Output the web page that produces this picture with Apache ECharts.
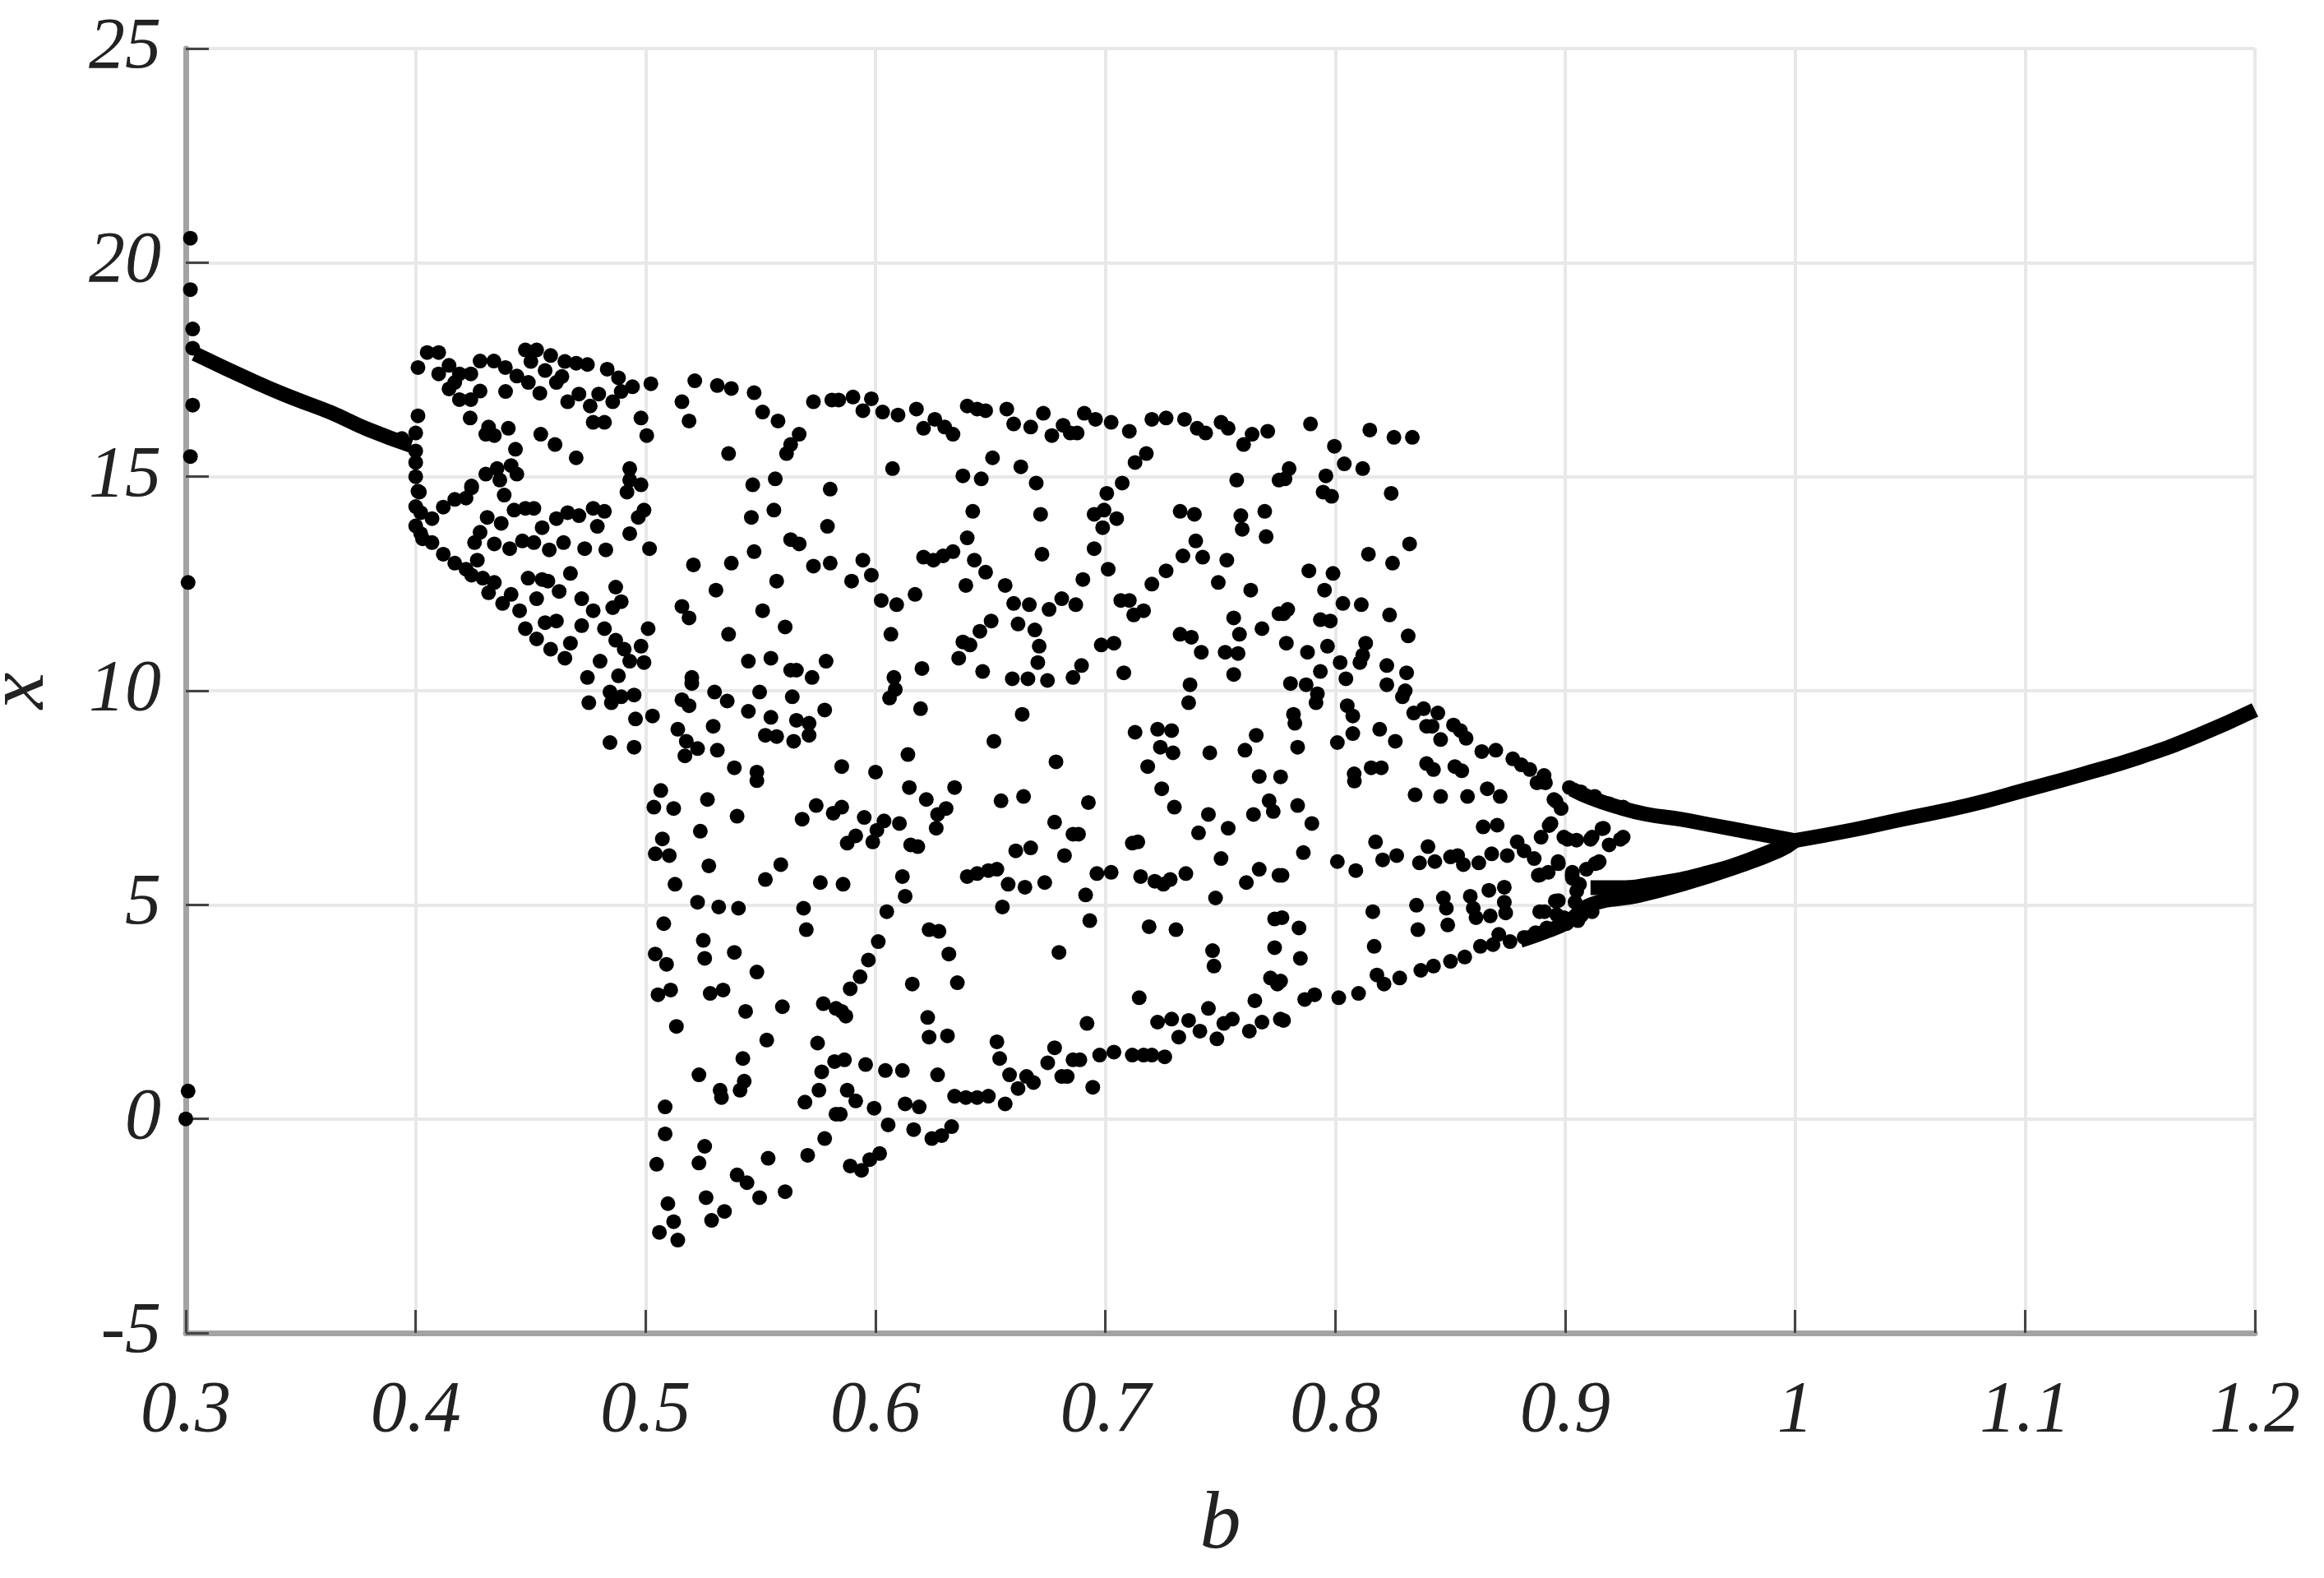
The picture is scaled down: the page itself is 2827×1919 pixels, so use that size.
<!DOCTYPE html>
<html>
<head>
<meta charset="utf-8">
<title>Bifurcation diagram</title>
<script src="https://cdn.jsdelivr.net/npm/echarts@6/dist/echarts.min.js"></script>
<style>
  html, body { margin: 0; padding: 0; background: #fff; }
  #chart { width: 2827px; height: 1919px; }
</style>
</head>
<body>
<div id="chart"></div>
<script>
// axis ticks
const bTicks = [0.3, 0.4, 0.5, 0.6, 0.7, 0.8, 0.9, 1.0, 1.1, 1.2];
const xTicks = [-5, 0, 5, 10, 15, 20, 25];

// period-1 branch before the chaotic window, [b, x]
const leftBranch = [[0.304, 17.87], [0.331, 17.19], [0.347, 16.83], [0.363, 16.5], [0.379, 16.11], [0.398, 15.73]];

// isolated dots on b = 0.3
const dotsAt03 = [[0.302, 20.57], [0.302, 19.37], [0.303, 18.45], [0.303, 18.0], [0.303, 16.67], [0.302, 15.47], [0.301, 12.53], [0.301, 0.65], [0.3, 0.0]];

// dots on the vertical strip at b = 0.4
const dotsAt04 = [[0.401, 16.42], [0.4, 16.02], [0.4, 15.6], [0.4, 15.33], [0.4, 15.0], [0.401, 14.66], [0.4, 14.3], [0.394, 15.89]];

// chaotic region, b 0.40 - 0.58, upper part
const chaosA = [
  [0.401, 17.55], [0.405, 17.9], [0.41, 17.9], [0.4145, 17.6], [0.419, 17.4], [0.424, 17.4], [0.428, 17.7], [0.434, 17.7],
  [0.439, 17.55], [0.444, 17.35], [0.449, 17.2], [0.454, 16.95], [0.41, 17.4], [0.4145, 17.05], [0.419, 16.8], [0.424, 16.8],
  [0.428, 17.0], [0.417, 17.2], [0.4477, 17.96], [0.4501, 17.69], [0.4526, 17.96], [0.4563, 17.48], [0.4587, 17.83],
  [0.4612, 17.2], [0.4636, 17.34], [0.4649, 17.69], [0.4698, 17.65], [0.4747, 17.62], [0.4661, 16.75], [0.471, 16.93],
  [0.4759, 16.65], [0.4796, 16.93], [0.4772, 16.27], [0.4821, 16.27], [0.4833, 17.51], [0.4882, 17.31], [0.4857, 16.75],
  [0.4894, 16.99], [0.4943, 17.1], [0.498, 16.37], [0.5023, 17.17], [0.5005, 15.96], [0.4391, 16.99], [0.4237, 16.37],
  [0.4317, 16.16], [0.4342, 15.96], [0.4403, 16.13], [0.4305, 15.99], [0.4434, 15.64], [0.4544, 15.99], [0.4606, 15.75],
  [0.4698, 15.44], [0.4305, 15.06], [0.4354, 15.19], [0.4415, 15.26], [0.444, 15.06], [0.4366, 14.92], [0.4243, 14.78],
  [0.4385, 14.57], [0.4016, 14.64], [0.4022, 14.16], [0.4071, 14.02], [0.412, 14.29], [0.417, 14.47], [0.4219, 14.5],
  [0.4243, 14.74], [0.4428, 14.22], [0.4477, 14.26], [0.4514, 14.26], [0.4612, 14.02], [0.4661, 14.16], [0.471, 14.09],
  [0.4772, 14.26], [0.4821, 14.19], [0.479, 13.84], [0.455, 13.81], [0.4372, 13.91], [0.4311, 14.05], [0.428, 13.7],
  [0.4022, 13.67], [0.4071, 13.46], [0.412, 13.19], [0.417, 12.98], [0.4219, 12.84], [0.4243, 12.7], [0.4256, 13.46],
  [0.4268, 13.05], [0.4342, 13.43], [0.4409, 13.32], [0.4464, 13.5], [0.4514, 13.46], [0.4581, 13.29], [0.4643, 13.46],
  [0.4735, 13.32], [0.4827, 13.29], [0.4292, 12.63], [0.4342, 12.53], [0.4317, 12.29], [0.4378, 12.04], [0.4415, 12.25],
  [0.4489, 12.63], [0.455, 12.6], [0.4575, 12.56], [0.4624, 12.32], [0.4673, 12.74], [0.4722, 12.15], [0.4526, 12.15],
  [0.4452, 11.87], [0.4477, 11.45], [0.4526, 11.21], [0.4563, 11.59], [0.4612, 11.63], [0.4587, 10.97], [0.4649, 10.76],
  [0.4673, 11.11], [0.4722, 11.52], [0.4772, 11.87], [0.4821, 11.45], [0.487, 11.18], [0.4907, 10.97], [0.487, 12.42],
  [0.4894, 12.08], [0.4857, 11.94], [0.4931, 10.69], [0.498, 11.04], [0.4993, 10.66], [0.5011, 11.45], [0.4802, 10.69],
  [0.4747, 10.31], [0.4882, 10.35], [0.4845, 9.97], [0.4894, 9.86], [0.495, 9.9], [0.4851, 9.72], [0.4753, 9.72],
  [0.4956, 9.34], [0.503, 9.41], [0.4845, 8.79], [0.495, 8.68], [0.4931, 15.19], [0.4931, 14.92], [0.498, 14.81],
  [0.4919, 14.64], [0.4993, 14.22], [0.4968, 14.05], [0.4931, 13.67], [0.5017, 13.32], [0.5214, 17.24], [0.5312, 17.13],
  [0.5373, 17.06], [0.5472, 16.96], [0.5509, 16.51], [0.5576, 16.3], [0.5158, 16.75], [0.5189, 16.3], [0.5361, 15.54],
  [0.5631, 15.75], [0.5668, 15.99], [0.5613, 15.54], [0.573, 16.75], [0.581, 16.79], [0.5466, 14.81], [0.5564, 14.95],
  [0.5803, 14.71], [0.546, 14.05], [0.5558, 14.22], [0.5791, 13.84], [0.5631, 13.53], [0.5668, 13.43], [0.5472, 13.25],
  [0.5373, 12.98], [0.5208, 12.94], [0.573, 12.91], [0.5803, 12.98], [0.557, 12.56], [0.5306, 12.35], [0.5158, 11.97],
  [0.5189, 11.7], [0.5509, 11.87], [0.5607, 11.49], [0.5361, 11.32], [0.5447, 10.69], [0.5545, 10.76], [0.5631, 10.48],
  [0.5656, 10.48], [0.5724, 10.31], [0.5785, 10.69], [0.5201, 10.31], [0.5201, 10.17], [0.5158, 9.79], [0.5189, 9.65],
  [0.53, 9.97], [0.5355, 9.76], [0.5496, 9.97], [0.5638, 9.86], [0.5447, 9.52], [0.5545, 9.38], [0.5656, 9.31],
  [0.5711, 9.24], [0.5779, 9.55], [0.5711, 8.96], [0.5294, 9.17], [0.514, 9.1], [0.5177, 8.82], [0.5226, 8.65],
  [0.5312, 8.61], [0.5171, 8.48], [0.5386, 8.2], [0.5484, 8.1], [0.5521, 8.96], [0.557, 8.93], [0.5644, 8.82],
  [0.4, 13.85], [0.403, 13.55]
];

// chaotic region, b 0.50 - 0.58, lower part
const chaosB = [
  [0.5066, 7.67], [0.5036, 7.28], [0.5122, 7.25], [0.5269, 7.46], [0.5398, 7.07], [0.5238, 6.72], [0.5073, 6.54],
  [0.5042, 6.19], [0.5103, 6.15], [0.5275, 5.91], [0.5128, 5.48], [0.5226, 5.06], [0.5318, 4.95], [0.5404, 4.92],
  [0.5079, 4.56], [0.5251, 4.17], [0.5386, 3.89], [0.5257, 3.75], [0.5042, 3.85], [0.5091, 3.61], [0.5054, 2.9],
  [0.5109, 3.01], [0.5281, 2.93], [0.5337, 3.01], [0.5435, 2.51], [0.5484, 3.43], [0.5588, 5.94], [0.5521, 5.59],
  [0.5134, 2.16], [0.5527, 1.84], [0.5595, 2.62], [0.5232, 1.03], [0.5324, 0.67], [0.533, 0.5], [0.5423, 1.41],
  [0.5429, 0.88], [0.5411, 0.67], [0.5085, 0.28], [0.5085, -0.35], [0.5257, -0.64], [0.5048, -1.06], [0.5232, -1.03],
  [0.5533, -0.92], [0.5398, -1.31], [0.5441, -1.49], [0.5263, -1.84], [0.5496, -1.84], [0.5607, -1.7], [0.5097, -1.98],
  [0.5122, -2.4], [0.506, -2.65], [0.514, -2.83], [0.5287, -2.37], [0.5343, -2.16], [0.5705, -0.85], [0.5779, -0.46],
  [0.5693, 0.39], [0.5754, 0.67], [0.5766, 1.1], [0.5822, 1.34], [0.5748, 1.77], [0.5773, 2.69], [0.5828, 2.58],
  [0.5687, 4.92], [0.5699, 4.42], [0.576, 5.52], [0.5681, 7.0], [0.5742, 7.32], [0.5816, 7.14], [0.5828, 0.11], [0.5484, 7.9]
];

// chaotic region, b 0.58 - 0.78, upper part
const chaosC = [
  [0.584, 16.79], [0.5902, 16.86], [0.5945, 16.54], [0.5982, 16.82], [0.6031, 16.51], [0.6098, 16.44], [0.6178, 16.58],
  [0.6209, 16.13], [0.6258, 16.34], [0.6301, 16.16], [0.6337, 15.99], [0.6399, 16.65], [0.6442, 16.58], [0.6479, 16.54],
  [0.6571, 16.58], [0.6601, 16.23], [0.6675, 16.16], [0.673, 16.48], [0.6767, 15.96], [0.6816, 16.2], [0.6847, 16.02],
  [0.6877, 16.02], [0.6908, 16.48], [0.6957, 16.34], [0.7025, 16.27], [0.7104, 16.06], [0.7202, 16.34], [0.7264, 16.37],
  [0.7344, 16.34], [0.7399, 16.13], [0.7436, 16.02], [0.7503, 16.27], [0.7534, 16.13], [0.7601, 15.75], [0.7638, 15.99],
  [0.7706, 16.06], [0.6074, 15.19], [0.638, 15.02], [0.646, 14.95], [0.6509, 15.44], [0.6632, 15.23], [0.6699, 14.85],
  [0.7129, 15.33], [0.7178, 15.54], [0.7073, 14.85], [0.7006, 14.61], [0.7571, 14.92], [0.7755, 14.92], [0.6423, 14.19],
  [0.6718, 14.12], [0.6951, 14.12], [0.6994, 14.22], [0.7049, 14.02], [0.6988, 13.81], [0.7325, 14.19], [0.7387, 14.12],
  [0.7589, 14.09], [0.7693, 14.19], [0.7595, 13.77], [0.7699, 13.6], [0.6399, 13.57], [0.6209, 13.12], [0.6252, 13.05],
  [0.6294, 13.15], [0.6337, 13.25], [0.5945, 13.05], [0.5982, 12.7], [0.5896, 12.56], [0.643, 13.05], [0.6479, 12.77],
  [0.6724, 13.19], [0.6951, 13.32], [0.7393, 13.5], [0.7337, 13.15], [0.7423, 13.12], [0.7528, 13.05], [0.7012, 12.84],
  [0.6902, 12.6], [0.7264, 12.8], [0.7202, 12.49], [0.7491, 12.53], [0.7632, 12.35], [0.6393, 12.46], [0.6564, 12.46],
  [0.6025, 12.11], [0.6092, 12.01], [0.6172, 12.25], [0.6601, 12.04], [0.6669, 12.01], [0.6755, 11.9], [0.681, 12.15],
  [0.6871, 12.01], [0.7067, 12.11], [0.7104, 12.11], [0.7123, 11.77], [0.7166, 11.87], [0.7558, 11.7], [0.7583, 11.32],
  [0.7681, 11.45], [0.7755, 11.8], [0.6503, 11.63], [0.6454, 11.39], [0.638, 11.14], [0.6411, 11.07], [0.6362, 10.76],
  [0.662, 11.56], [0.6693, 11.42], [0.6712, 11.04], [0.6706, 10.66], [0.6067, 11.32], [0.6202, 10.52], [0.608, 10.31],
  [0.6086, 10.03], [0.6061, 9.83], [0.6466, 10.45], [0.6595, 10.28], [0.6663, 10.28], [0.6748, 10.24], [0.6859, 10.31],
  [0.6896, 10.59], [0.6982, 11.07], [0.7037, 11.11], [0.708, 10.42], [0.7325, 11.32], [0.7374, 11.25], [0.7417, 10.9],
  [0.7521, 10.9], [0.7577, 10.87], [0.7558, 10.38], [0.7368, 10.14], [0.7362, 9.72], [0.6196, 9.58], [0.6638, 9.45],
  [0.6515, 8.82], [0.6141, 8.51], [0.6, 8.1], [0.5853, 8.23], [0.6785, 8.34], [0.7129, 9.03], [0.7227, 9.1],
  [0.7288, 9.07], [0.7239, 8.68], [0.7294, 8.55], [0.7184, 8.23], [0.7454, 8.55], [0.7607, 8.61], [0.7656, 8.96], [0.7669, 8.0]
];

// chaotic region, b 0.58 - 0.78, lower part
const chaosD = [
  [0.6147, 7.74], [0.6344, 7.74], [0.6221, 7.46], [0.6307, 7.25], [0.627, 7.11], [0.6264, 6.79], [0.5853, 7.28],
  [0.5951, 7.04], [0.6037, 6.96], [0.6006, 6.74], [0.5914, 6.61], [0.5877, 6.44], [0.5988, 6.47], [0.6104, 6.9],
  [0.6153, 6.4], [0.6184, 6.36], [0.6546, 7.43], [0.6644, 7.53], [0.6926, 7.39], [0.6779, 6.93], [0.6859, 6.65],
  [0.6883, 6.65], [0.661, 6.26], [0.6675, 6.33], [0.6822, 6.15], [0.7245, 7.71], [0.73, 7.28], [0.7448, 7.11],
  [0.7405, 6.68], [0.7534, 6.79], [0.7644, 7.11], [0.7712, 7.43], [0.773, 7.18], [0.7117, 6.44], [0.7141, 6.47],
  [0.7503, 6.08], [0.7669, 5.83], [0.7613, 5.52], [0.7755, 5.69], [0.7479, 5.16], [0.5859, 5.48], [0.6117, 5.66],
  [0.6129, 5.2], [0.6049, 4.84], [0.6399, 5.66], [0.6442, 5.73], [0.6491, 5.8], [0.6528, 5.83], [0.6577, 5.48],
  [0.665, 5.41], [0.6736, 5.52], [0.6552, 4.95], [0.6914, 5.23], [0.6932, 4.63], [0.6963, 5.73], [0.7025, 5.76],
  [0.7153, 5.66], [0.7215, 5.55], [0.7252, 5.48], [0.7282, 5.59], [0.735, 5.73], [0.719, 4.49], [0.7307, 4.42],
  [0.7736, 4.67], [0.7466, 3.93], [0.7472, 3.57], [0.7736, 4.0], [0.7718, 3.29], [0.7748, 3.15], [0.6233, 4.42],
  [0.6276, 4.38], [0.6012, 4.14], [0.5969, 3.71], [0.5933, 3.32], [0.589, 3.04], [0.6319, 3.85], [0.616, 3.15],
  [0.6356, 3.18], [0.6798, 3.89], [0.7147, 2.83], [0.5853, 2.51], [0.5871, 2.4], [0.6227, 2.37], [0.6233, 1.91],
  [0.6313, 1.94], [0.6528, 1.8], [0.654, 1.41], [0.692, 2.23], [0.6779, 1.66], [0.6749, 1.31], [0.6859, 1.38],
  [0.6889, 1.38], [0.6975, 1.49], [0.7037, 1.56], [0.7117, 1.49], [0.7166, 1.49], [0.7202, 1.49], [0.7258, 1.45],
  [0.7227, 2.26], [0.7288, 2.33], [0.7362, 2.3], [0.7411, 2.05], [0.7319, 1.91], [0.7448, 2.58], [0.7485, 1.87],
  [0.7515, 2.23], [0.7552, 2.33], [0.7626, 2.05], [0.7681, 2.26], [0.765, 2.76], [0.7761, 2.33], [0.5865, 1.38],
  [0.5957, 1.27], [0.6043, 1.13], [0.6117, 1.13], [0.627, 1.03], [0.5877, 0.67], [0.5914, 0.42], [0.5994, 0.25],
  [0.6129, 0.35], [0.619, 0.28], [0.6344, 0.53], [0.6393, 0.5], [0.6442, 0.5], [0.6491, 0.53], [0.6564, 0.35],
  [0.6583, 1.03], [0.662, 0.71], [0.6657, 0.99], [0.6687, 0.85], [0.681, 0.99], [0.6834, 0.99], [0.6945, 0.74],
  [0.5847, 0.11], [0.6055, -0.14], [0.6166, -0.25], [0.6245, -0.46], [0.6288, -0.39], [0.6331, -0.18], [0.6018, -0.81],
  [0.5975, -0.95], [0.5939, -1.2], [0.589, -1.1]
];

// chaotic region, b 0.78 - 0.93
const chaosE = [
  [0.7892, 16.23], [0.815, 16.09], [0.8255, 15.92], [0.8335, 15.92], [0.7996, 15.71], [0.8039, 15.3], [0.8119, 15.19],
  [0.7799, 15.19], [0.7781, 14.95], [0.7959, 15.02], [0.7947, 14.64], [0.7984, 14.54], [0.8243, 14.61], [0.8323, 13.43],
  [0.8144, 13.19], [0.8249, 12.98], [0.7885, 12.8], [0.799, 12.74], [0.7953, 12.35], [0.8033, 12.04], [0.8113, 12.01],
  [0.7793, 11.9], [0.7775, 11.8], [0.7935, 11.66], [0.7978, 11.63], [0.8236, 11.77], [0.8317, 11.28], [0.7787, 11.11],
  [0.7879, 10.9], [0.7966, 11.04], [0.8132, 11.11], [0.8119, 10.83], [0.8107, 10.66], [0.8021, 10.66], [0.7935, 10.45],
  [0.8046, 10.28], [0.8224, 10.59], [0.831, 10.42], [0.8224, 10.14], [0.8304, 10.0], [0.8292, 9.86], [0.7805, 10.17],
  [0.7873, 10.14], [0.7922, 9.93], [0.7916, 9.72], [0.7818, 9.45], [0.7824, 9.24], [0.7836, 8.68], [0.8052, 9.65],
  [0.8076, 9.41], [0.8076, 9.0], [0.8009, 8.79], [0.8193, 9.1], [0.8261, 8.82], [0.8341, 9.48], [0.8384, 9.58],
  [0.8446, 9.48], [0.8397, 9.17], [0.8421, 9.17], [0.8458, 8.86], [0.8514, 9.2], [0.8544, 9.07], [0.8569, 8.89],
  [0.8637, 8.58], [0.8698, 8.61], [0.8772, 8.41], [0.8809, 8.27], [0.8846, 8.16], [0.8908, 8.02], [0.8397, 8.3],
  [0.8427, 8.16], [0.852, 8.23], [0.855, 8.13], [0.8156, 8.2], [0.82, 8.2], [0.8082, 8.06], [0.7762, 7.99],
  [0.8083, 7.89], [0.8347, 7.57], [0.8458, 7.53], [0.8575, 7.53], [0.8661, 7.71], [0.8717, 7.53], [0.8877, 7.85],
  [0.8914, 7.85], [0.7836, 7.32], [0.7898, 6.9], [0.7861, 6.22], [0.7768, 5.69], [0.8009, 6.01], [0.8089, 5.8],
  [0.8175, 6.47], [0.8206, 6.05], [0.8267, 6.15], [0.8366, 5.98], [0.8433, 6.01], [0.8403, 6.36], [0.8501, 6.12],
  [0.8532, 6.15], [0.8557, 5.94], [0.8624, 5.98], [0.868, 6.19], [0.8643, 6.82], [0.8704, 6.86], [0.8748, 6.15],
  [0.8791, 6.47], [0.8821, 6.26], [0.8865, 6.08], [0.8951, 7.46], [0.8982, 7.25], [0.8938, 6.9], [0.8895, 6.58],
  [0.8994, 6.58], [0.9049, 6.51], [0.9117, 6.58], [0.9166, 6.79], [0.9191, 6.4], [0.9252, 6.58], [0.9018, 7.74],
  [0.9068, 7.64], [0.9129, 7.53], [0.9191, 7.36], [0.9252, 7.28], [0.8969, 6.01], [0.8883, 5.69], [0.8926, 5.76],
  [0.9031, 5.76], [0.9092, 5.83], [0.9148, 6.01], [0.8163, 4.84], [0.8353, 4.99], [0.8359, 4.42], [0.847, 5.16],
  [0.8483, 4.92], [0.8489, 4.53], [0.8587, 5.2], [0.86, 4.92], [0.8612, 4.7], [0.8668, 5.34], [0.8674, 4.74],
  [0.8735, 5.41], [0.8735, 5.06], [0.8741, 4.81], [0.7842, 4.46], [0.8169, 4.03], [0.7848, 3.75], [0.7768, 4.7],
  [0.7762, 3.22], [0.8181, 3.36], [0.8212, 3.15], [0.828, 3.29], [0.7867, 2.79], [0.791, 2.9], [0.8015, 2.83],
  [0.8101, 2.93], [0.7775, 2.3], [0.8372, 3.47], [0.8427, 3.57], [0.8501, 3.68], [0.8563, 3.78], [0.8631, 4.03],
  [0.8686, 4.07], [0.8711, 4.31], [0.876, 4.14], [0.8821, 4.24], [0.8871, 4.35], [0.892, 4.46], [0.8889, 4.84],
  [0.8957, 5.09], [0.8963, 4.77], [0.8994, 4.7], [0.9006, 4.56], [0.9055, 4.63], [0.9043, 5.06], [0.9031, 5.62],
  [0.9062, 5.48], [0.9117, 4.84], [0.9142, 5.98], [0.889, 5.7], [0.897, 5.96], [0.903, 5.7], [0.913, 5.96],
  [0.905, 5.32], [0.897, 5.1], [0.891, 4.84], [0.907, 4.75], [0.893, 6.85], [0.901, 6.53], [0.911, 6.53],
  [0.916, 6.78], [0.924, 6.53], [0.896, 7.42], [0.889, 7.87]
];

// period-2 window and period-1 branch after it
const period2Upper = [[0.903, 7.7], [0.911, 7.5], [0.922, 7.3], [0.935, 7.12], [0.95, 7.0], [0.965, 6.85], [0.98, 6.7], [1.0, 6.5]];
const period2Lower = [[0.8805, 4.17], [0.8908, 4.36], [0.901, 4.6], [0.911, 5.0], [0.932, 5.22], [0.952, 5.5], [0.973, 5.86], [0.993, 6.27], [1.0, 6.5]];
const period2LowerTop = [[0.911, 5.4], [0.922, 5.4], [0.94, 5.5], [0.96, 5.72], [0.98, 6.05], [1.0, 6.5]];
const rightBranch = [[1.0, 6.5], [1.025, 6.75], [1.045, 6.98], [1.075, 7.32], [1.1, 7.68], [1.125, 8.05], [1.15, 8.45], [1.175, 8.95], [1.2, 9.55]];

const chart = echarts.init(document.getElementById('chart'));

const serif = '"Liberation Serif", "Times New Roman", Times, serif';

function branch(data) {
  return {
    type: 'line',
    data: data,
    smooth: true,
    symbol: 'none',
    lineStyle: { color: '#000', width: 18, opacity: 1 },
    silent: true,
    z: 3
  };
}

const dots = [].concat(dotsAt03, dotsAt04, chaosA, chaosB, chaosC, chaosD, chaosE);

chart.setOption({
  animation: false,
  backgroundColor: '#fff',
  grid: {
    left: 226,
    right: 84,
    top: 59,
    bottom: 298,
    outerBoundsMode: 'none',
    containLabel: false
  },
  xAxis: {
    type: 'value',
    min: bTicks[0],
    max: bTicks[bTicks.length - 1],
    interval: 0.1,
    name: 'b',
    nameLocation: 'middle',
    nameGap: 185,
    nameTextStyle: { fontSize: 100, fontFamily: serif, fontStyle: 'italic', color: '#222' },
    axisLine: { show: true, onZero: false, lineStyle: { color: '#a3a3a3', width: 7 } },
    axisTick: { show: true, inside: true, length: 28, lineStyle: { color: '#444', width: 3 } },
    axisLabel: {
      margin: 52,
      fontSize: 88,
      fontFamily: serif,
      fontStyle: 'italic',
      color: '#222',
      formatter: v => String(+v.toFixed(1))
    },
    splitLine: { show: true, lineStyle: { color: '#e8e8e8', width: 4 } }
  },
  yAxis: {
    type: 'value',
    min: xTicks[0],
    max: xTicks[xTicks.length - 1],
    interval: 5,
    name: 'x',
    nameLocation: 'middle',
    nameRotate: 90,
    nameGap: 150,
    nameTextStyle: { fontSize: 100, fontFamily: serif, fontStyle: 'italic', color: '#222' },
    axisLine: { show: true, onZero: false, lineStyle: { color: '#a3a3a3', width: 7 } },
    axisTick: { show: true, inside: true, length: 28, lineStyle: { color: '#444', width: 3 } },
    axisLabel: {
      margin: 30,
      fontSize: 88,
      fontFamily: serif,
      fontStyle: 'italic',
      color: '#222'
    },
    splitLine: { show: true, lineStyle: { color: '#e8e8e8', width: 4 } }
  },
  series: [
    branch(leftBranch),
    branch(period2Upper),
    branch(period2Lower),
    branch(period2LowerTop),
    branch(rightBranch),
    {
      type: 'scatter',
      data: dots,
      symbol: 'circle',
      symbolSize: 18,
      itemStyle: { color: '#000', opacity: 1 },
      silent: true,
      z: 4
    }
  ]
});
</script>
</body>
</html>
